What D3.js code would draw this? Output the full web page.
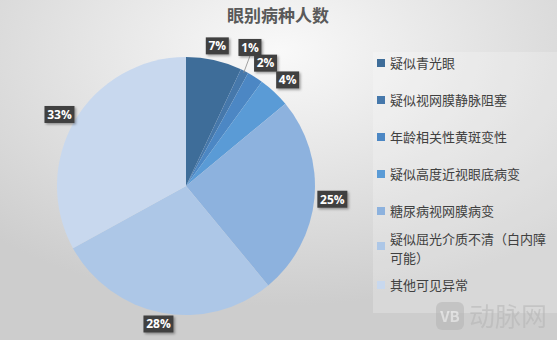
<!DOCTYPE html>
<html>
<head>
<meta charset="utf-8">
<script src="https://cdn.jsdelivr.net/npm/d3@7"></script>
<style>
  body { margin: 0; }
  svg { display: block; font-family: "Noto Sans CJK SC", "Noto Sans", sans-serif; }
</style>
</head>
<body>
<svg id="chart" width="557" height="340"></svg>
<script>
// chart data
const categories = ["疑似青光眼", "疑似视网膜静脉阻塞", "年龄相关性黄斑变性", "疑似高度近视眼底病变",
  "糖尿病视网膜病变", "疑似屈光介质不清（白内障可能）", "其他可见异常"];
const legendLines = [["疑似青光眼"], ["疑似视网膜静脉阻塞"], ["年龄相关性黄斑变性"], ["疑似高度近视眼底病变"],
  ["糖尿病视网膜病变"], ["疑似屈光介质不清（白内障", "可能）"], ["其他可见异常"]];
const percents = [7, 1, 2, 4, 25, 28, 33];
const colors = ["#3e6d99", "#4678ab", "#4c87c4", "#5a9bd6", "#8db2de", "#adc7e7", "#c8d8ee"];

const width = 557, height = 340;
const svg = d3.select("#chart");
const defs = svg.append("defs");

// background gradient (light at top centre, grey at edges)
const bg = defs.append("radialGradient").attr("id", "bg")
  .attr("cx", "50%").attr("cy", "15%").attr("r", "75%");
bg.append("stop").attr("offset", "0%").attr("stop-color", "#f9f9f9");
bg.append("stop").attr("offset", "100%").attr("stop-color", "#cdcdcd");
svg.append("rect").attr("width", width).attr("height", height).attr("fill", "url(#bg)");

// label shadow
const sh = defs.append("filter").attr("id", "shadow").attr("x", "-30%").attr("y", "-30%").attr("width", "170%").attr("height", "170%");
sh.append("feDropShadow").attr("dx", 1.5).attr("dy", 1.5).attr("stdDeviation", 1).attr("flood-color", "#000").attr("flood-opacity", 0.35);

// title
svg.append("text")
  .attr("x", 278).attr("y", 22)
  .attr("text-anchor", "middle")
  .attr("font-size", 17).attr("font-weight", "bold")
  .attr("fill", "#595959")
  .text("眼别病种人数");

// pie
const cx = 186, cy = 186, radius = 129;
const pie = d3.pie().sort(null).value(d => d);
const arcs = pie(percents);
const arc = d3.arc().innerRadius(0).outerRadius(radius);

const g = svg.append("g").attr("transform", `translate(${cx},${cy})`);
g.selectAll("path.slice")
  .data(arcs)
  .join("path")
  .attr("class", "slice")
  .attr("d", arc)
  .attr("fill", (d, i) => colors[i]);

// data labels, placed outside the slice end
const boxW = d => d.data >= 10 ? 30 : 23;
const boxH = 17;
const gap = d => d.index === 1 ? 18 : (d.index === 2 || d.index === 3 ? 8 : 3);
const labelPos = d => {
  const a = (d.startAngle + d.endAngle) / 2;
  const ux = Math.sin(a), uy = -Math.cos(a);
  const r = radius + gap(d);
  let x = r * ux + ux * boxW(d) / 2;
  let y = r * uy + uy * boxH / 2;
  if (d.index === 1) { x -= 8; }
  if (d.index === 0) { y -= 3; }
  return [x, y];
};

// leader line for the 1% label
const small = arcs[1];
const sm = (small.startAngle + small.endAngle) / 2;
const lp = labelPos(small);
g.append("line")
  .attr("x1", (radius - 2) * Math.sin(sm)).attr("y1", -(radius - 2) * Math.cos(sm))
  .attr("x2", lp[0]).attr("y2", lp[1] + boxH / 2)
  .attr("stroke", "#8c8c8c").attr("stroke-width", 0.8);

const labels = g.selectAll("g.lbl")
  .data(arcs)
  .join("g")
  .attr("class", "lbl")
  .attr("transform", d => `translate(${labelPos(d)})`);
labels.append("rect")
  .attr("x", d => -boxW(d) / 2).attr("y", -boxH / 2)
  .attr("width", d => boxW(d)).attr("height", boxH)
  .attr("fill", "#404040")
  .attr("filter", "url(#shadow)");
labels.append("text")
  .attr("text-anchor", "middle")
  .attr("dy", "0.36em")
  .attr("font-family", "'Open Sans', 'Noto Sans', sans-serif")
  .attr("font-size", 12).attr("font-weight", "bold")
  .attr("fill", "#ffffff")
  .text(d => d.data + "%");

// legend
const legend = svg.append("g");
legend.append("rect")
  .attr("x", 373).attr("y", 52).attr("width", 184).attr("height", 261)
  .attr("fill", "#ffffff").attr("opacity", 0.22);

const legendY = d3.scalePoint().domain(d3.range(categories.length)).range([63, 285]);
const lineGap = 19;
const items = legend.selectAll("g.item")
  .data(categories)
  .join("g")
  .attr("class", "item")
  .attr("transform", (d, i) => `translate(377,${legendY(i)})`);
items.append("rect")
  .attr("x", 0).attr("y", (d, i) => legendLines[i].length > 1 ? -6 : -4)
  .attr("width", 8).attr("height", 8)
  .attr("fill", (d, i) => colors[i]);
items.each(function (d, i) {
  const lines = legendLines[i];
  const y0 = -(lines.length - 1) * lineGap / 2 + (lines.length > 1 ? 0 : 0);
  lines.forEach((line, j) => {
    d3.select(this).append("text")
      .attr("x", 13).attr("y", y0 + j * lineGap + (lines.length > 1 ? 1 : 0))
      .attr("dy", "0.36em")
      .attr("font-size", 13)
      .attr("fill", "#404040")
      .text(line);
  });
});

// watermark
const wm = svg.append("g").attr("opacity", 0.55);
wm.append("rect")
  .attr("x", 436).attr("y", 302).attr("width", 28).attr("height", 28).attr("rx", 6)
  .attr("fill", "#b5b5b5");
wm.append("text")
  .attr("x", 450).attr("y", 322).attr("text-anchor", "middle")
  .attr("font-size", 15).attr("font-weight", "bold").attr("fill", "#ececec")
  .text("VB");
wm.append("text")
  .attr("x", 469).attr("y", 326)
  .attr("font-size", 26).attr("fill", "#b5b5b5")
  .text("动脉网");
</script>
</body>
</html>
